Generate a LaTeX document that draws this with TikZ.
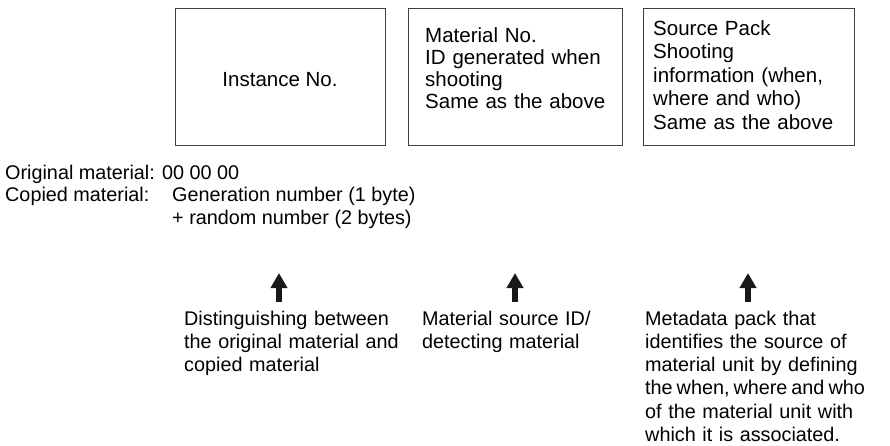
\documentclass[tikz,border=0pt]{standalone}
\usepackage{fontspec}
\setmainfont{Liberation Sans}
\usetikzlibrary{arrows.meta}
\tikzset{
  box/.style={draw=black!75, line width=1pt, inner sep=0pt, minimum height=137pt},
  txt/.style={inner sep=0pt, align=left, font=\fontsize{19.8}{23.3}\selectfont},
  boxtxt/.style={inner sep=0pt, align=left},
  bigarrow/.style={line width=6pt, -{Triangle[length=15pt,width=16pt]}, black!90}
}
\begin{document}
\begin{tikzpicture}[x=1pt,y=-1pt]
\useasboundingbox (0,0) rectangle (890,445);
% boxes
\node[box, minimum width=210pt] (b1) at (280,76.5) {};
\node[box, minimum width=214pt] (b2) at (515,76.5) {};
\node[box, minimum width=211pt] (b3) at (748.5,76.5) {};
\node[boxtxt, anchor=base, font=\fontsize{20.5}{23}\selectfont] (b1t) at (280,86) {Instance No.};
\node[boxtxt, text width=194pt, anchor=base west, font=\fontsize{20.5}{22.3}\selectfont] (b2t) at (425,42) {Material No.\\ID generated when\\shooting\\Same as the above};
\node[boxtxt, text width=196pt, anchor=base west, font=\fontsize{20.5}{23.6}\selectfont] (b3t) at (653,35) {Source Pack\\Shooting\\information (when,\\where and who)\\Same as the above};
% left texts
\node[txt, anchor=base west] (orig) at (5,179) {Original material: 00 00 00};
\node[txt, anchor=base west] (copl) at (5,201) {Copied material:};
\node[txt, anchor=base west] (gen) at (172,201) {Generation number (1 byte)};
\node[txt, anchor=base west] (rnd) at (172,224) {+ random number (2 bytes)};
% bottom texts
\node[txt, text width=225pt, anchor=base west] (t1) at (184,325) {Distinguishing between\\the original material and\\copied material};
\node[txt, text width=200pt, anchor=base west] (t2) at (422,325) {Material source ID/\\detecting material};
\node[txt, text width=240pt, anchor=base west] (t3) at (645,325) {Metadata pack that\\identifies the source of\\material unit by defining\\{\spaceskip=4pt\relax the when, where and who}\\of the material unit with\\which it is associated.};
% arrows
\coordinate (a1s) at (279,302); \coordinate (a1e) at (279,273);
\coordinate (a2s) at (515,302); \coordinate (a2e) at (515,273);
\coordinate (a3s) at (748,302); \coordinate (a3e) at (748,273);
\draw[bigarrow] (a1s) -- (a1e);
\draw[bigarrow] (a2s) -- (a2e);
\draw[bigarrow] (a3s) -- (a3e);
\end{tikzpicture}
\end{document}
